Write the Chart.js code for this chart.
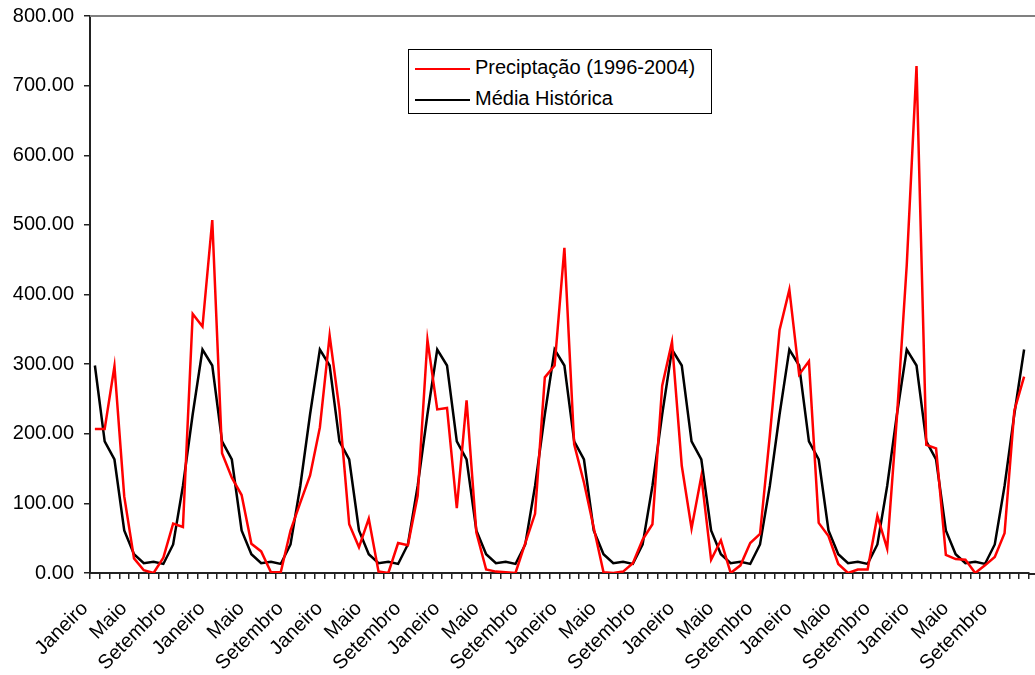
<!DOCTYPE html>
<html>
<head>
<meta charset="utf-8">
<script src="https://cdn.jsdelivr.net/npm/chart.js@4/dist/chart.umd.min.js"></script>
<style>
  html, body { margin: 0; padding: 0; background: #fff; }
  #wrap { position: relative; width: 1035px; height: 675px; }
  #legenda {
    position: absolute; left: 408px; top: 49px; width: 302px; height: 63px;
    border: 1px solid #000; background: #fff;
    font-family: "Liberation Sans", Arial, sans-serif; font-size: 20px; color: #000;
  }
  .item { position: absolute; left: 6px; height: 24px; line-height: 24px; white-space: nowrap; }
  .item span.linha { display: inline-block; width: 55px; height: 2px; vertical-align: middle; margin-right: 5px; }
</style>
</head>
<body>
<div id="wrap">
  <canvas id="grafico" width="1035" height="675"></canvas>
  <div id="legenda">
    <div class="item" style="top:5px"><span class="linha" style="background:#ff0000"></span>Preciptação (1996-2004)</div>
    <div class="item" style="top:36px"><span class="linha" style="background:#000"></span>Média Histórica</div>
  </div>
</div>
<script>
const meses = ['Janeiro', 'Fevereiro', 'Março', 'Abril', 'Maio', 'Junho',
               'Julho', 'Agosto', 'Setembro', 'Outubro', 'Novembro', 'Dezembro'];
const anos = [1996, 1997, 1998, 1999, 2000, 2001, 2002, 2003];

// precipitação mensal (jan/1996 .. dez/2003)
const precipitacao = [
  207, 207, 297, 110, 21, 4, 0, 22, 71, 66, 372, 354,
  507, 172, 137, 112, 42, 31, 1, 1, 61, 101, 140, 209,
  341, 235, 70, 37, 78, 2, 0, 43, 40, 111, 335, 235,
  237, 93, 248, 58, 5, 2, 1, 0, 43, 85, 281, 298,
  467, 185, 130, 65, 1, 0, 2, 14, 48, 70, 269, 332,
  154, 64, 139, 19, 47, 0, 11, 43, 56, 197, 349, 407,
  285, 304, 72, 53, 13, 0, 5, 5, 82, 35, 225, 442,
  728, 184, 179, 26, 20, 19, 0, 11, 23, 57, 233, 282
];

// média histórica por mês (jan..dez)
const mediaMensal = [298, 189, 163, 61, 27, 14, 16, 13, 41, 125, 228, 321];

const rotulos = [];
const media = [];
anos.forEach(a => {
  meses.forEach((m, i) => {
    rotulos.push(m);
    media.push(mediaMensal[i]);
  });
});

const fonte = { family: '"Liberation Sans", Arial, sans-serif', size: 20 };

// linha cinza no topo e prolongamento do eixo x até a borda
const bordas = {
  id: 'bordas',
  afterDraw(chart) {
    const { ctx, chartArea } = chart;
    ctx.save();
    ctx.strokeStyle = '#808080';
    ctx.lineWidth = 2;
    ctx.beginPath();
    ctx.moveTo(chartArea.left, chartArea.top);
    ctx.lineTo(1035, chartArea.top);
    ctx.stroke();
    ctx.strokeStyle = '#222';
    ctx.beginPath();
    ctx.moveTo(chartArea.right, chartArea.bottom + 1);
    ctx.lineTo(1035, chartArea.bottom + 1);
    ctx.stroke();
    ctx.restore();
  }
};

new Chart(document.getElementById('grafico').getContext('2d'), {
  type: 'line',
  data: {
    labels: rotulos,
    datasets: [
      {
        label: 'Preciptação (1996-2004)',
        data: precipitacao,
        borderColor: '#ff0000',
        borderWidth: 2.5,
        pointRadius: 0,
        tension: 0,
        fill: false
      },
      {
        label: 'Média Histórica',
        data: media,
        borderColor: '#000000',
        borderWidth: 2.5,
        pointRadius: 0,
        tension: 0,
        fill: false
      }
    ]
  },
  options: {
    responsive: false,
    animation: false,
    layout: { padding: { top: 16, right: 6, left: 0, bottom: 0 } },
    plugins: {
      legend: { display: false },
      tooltip: { enabled: false }
    },
    scales: {
      x: {
        type: 'category',
        offset: true,
        border: { color: '#222', width: 2 },
        grid: { offset: true, drawOnChartArea: false, tickLength: 6, color: '#222', lineWidth: 1.5 },
        ticks: {
          autoSkip: false,
          maxRotation: 45,
          minRotation: 45,
          padding: 18,
          labelOffset: -10,
          color: '#000',
          font: fonte,
          callback: function (v, i) { return i % 4 === 0 ? this.getLabelForValue(v) : ''; }
        },
        afterFit: s => { s.height = 102; s.paddingLeft = 0; s.paddingRight = 0; }
      },
      y: {
        min: 0,
        max: 800,
        border: { color: '#222', width: 2 },
        grid: { drawOnChartArea: false, tickLength: 6, color: '#222', lineWidth: 1.5 },
        ticks: {
          stepSize: 100,
          padding: 10,
          color: '#000',
          font: fonte,
          callback: v => v.toFixed(2)
        },
        afterFit: s => { s.width = 90; s.paddingTop = 0; s.paddingBottom = 0; }
      }
    }
  },
  plugins: [bordas]
});
</script>
</body>
</html>
